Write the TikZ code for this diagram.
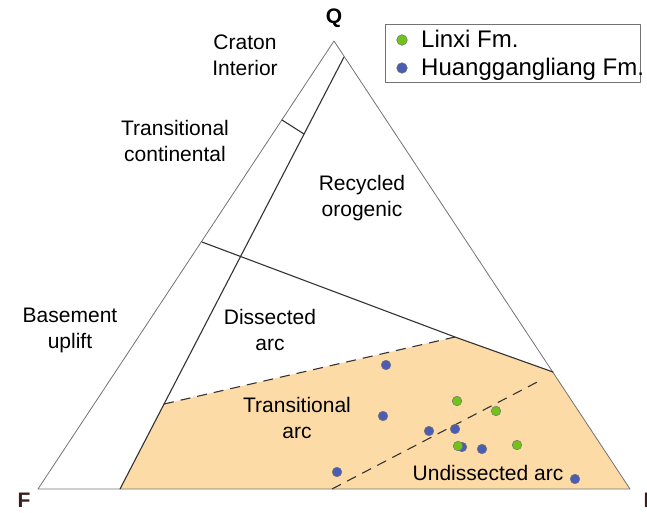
\documentclass[tikz,border=0pt]{standalone}
\usepackage{fontspec}
\setmainfont{Liberation Sans}
\definecolor{arcfill}{HTML}{FDDBA7}
\definecolor{linxigreen}{HTML}{71C21B}
\definecolor{hglblue}{HTML}{4A5DB3}
\definecolor{cornerbrown}{HTML}{3A1F1F}
\begin{document}
\begin{tikzpicture}[x=1pt, y=-1pt, line join=round, line cap=round,
	font=\fontsize{21}{26}\selectfont,
	edge/.style={draw=black!55, line width=0.8pt},
	field/.style={draw=black!80, line width=1.1pt},
	limit/.style={field, line cap=butt, dash pattern=on 10pt off 7pt},
	lbl/.style={align=center, inner sep=0pt},
	dot/.style={draw=black!55, line width=0.5pt}]
	\useasboundingbox (0,0) rectangle (647,512);
	\path
	(334,41) coordinate (Q)
	(38,489) coordinate (F)
	(630,489) coordinate (L)
	(344,57) coordinate (A)
	(120,489) coordinate (B)
	(282,120) coordinate (C)
	(304,134) coordinate (D)
	(202,242) coordinate (E)
	(553,372) coordinate (G)
	(455,337) coordinate (H)
	(164,404) coordinate (K)
	(332,489) coordinate (U)
	(543,379) coordinate (V)
	;
	% transitional and undissected arc field
	\fill[arcfill] (K)--(H)--(G)--(L)--(B)--cycle;
	\draw[edge] (Q)--(F)--(L)--cycle;
	\draw[field] (A)--(B);
	\draw[field] (C)--(D);
	\draw[field] (E)--(H)--(G);
	\draw[limit] (K)--(H);
	\draw[limit] (U)--(V);
	% corners
	\node[font=\fontsize{21}{26}\selectfont\bfseries] (q) at (334,18) {Q};
	\node[font=\fontsize{21}{26}\selectfont\bfseries, text=cornerbrown] (f) at (24,500) {F};
	\node[font=\fontsize{21}{26}\selectfont\bfseries, text=cornerbrown] (l) at (650,500) {L};
	% fields
	\node[lbl] (craton) at (245,55) {Craton\\Interior};
	\node[lbl] (transcont) at (175,141) {Transitional\\continental};
	\node[lbl] (recycled) at (362,198) {Recycled\\orogenic};
	\node[lbl] (basement) at (70,330) {Basement\\uplift};
	\node[lbl] (dissected) at (270,330) {Dissected\\arc};
	\node[lbl] (transarc) at (297,418) {Transitional\\arc};
	\node[lbl] (undissected) at (488,473) {Undissected arc};
	% samples
	\foreach \x/\y in {386/365,383/416,429/431,337/472,455/429,462/447,482/449,575/479}{
		\filldraw[dot, fill=hglblue] (\x,\y) circle (4.8);
	}
	\foreach \x/\y in {457/401,496/411,458/446,517/445}{
		\filldraw[dot, fill=linxigreen] (\x,\y) circle (4.8);
	}
	% legend
	\draw[edge] (385,24) rectangle (640,82);
	\filldraw[dot, fill=linxigreen] (402,40) circle (5.3);
	\filldraw[dot, fill=hglblue] (402,68) circle (5.3);
	\node[font=\fontsize{24}{28}\selectfont, anchor=base west, inner sep=0pt] (linxi) at (421,47) {Linxi Fm.};
	\node[font=\fontsize{24}{28}\selectfont, anchor=base west, inner sep=0pt] (hgl) at (421,75) {Huanggangliang Fm.};
\end{tikzpicture}
\end{document}
